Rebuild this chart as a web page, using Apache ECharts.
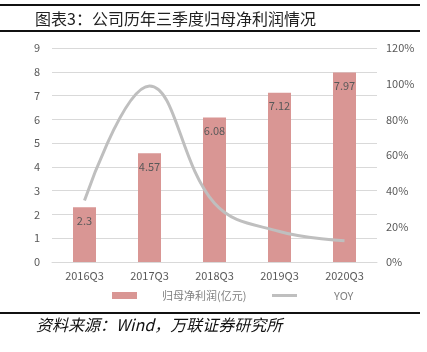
<!DOCTYPE html>
<html><head><meta charset="utf-8">
<script src="https://cdn.jsdelivr.net/npm/echarts@6/dist/echarts.min.js"></script>
<style>html,body{margin:0;padding:0;background:#fff}#c{width:427px;height:352px}</style>
</head><body><div id="c"></div>
<script>
var categories = ['2016Q3','2017Q3','2018Q3','2019Q3','2020Q3'];
var profit = [2.3, 4.57, 6.08, 7.12, 7.97];
var yoy = [34.44, 98.70, 32.93, 17.09, 11.89];
var leftTicks = {min:0, max:9, interval:1};
var rightTicks = {min:0, max:120, interval:20};
var F = '"Noto Sans CJK SC", sans-serif';
var chart = echarts.init(document.getElementById('c'));
chart.setOption({
  animation:false,
  textStyle:{fontFamily:F},
  grid:{left:52, right:50, top:48, bottom:90},
  legend:[
    {bottom:46, left:107, itemWidth:25, itemHeight:7,
      textStyle:{color:'#7f7f7f', fontSize:11, fontFamily:F, padding:[0,0,0,20]},
      data:[{name:'归母净利润(亿元)', icon:'rect'}]},
    {bottom:46, left:267, itemWidth:25, itemHeight:3,
      textStyle:{color:'#7f7f7f', fontSize:11, fontFamily:F, padding:[0,0,0,32]},
      data:[{name:'YOY', icon:'rect', itemStyle:{color:'#bfbfbf'}}]}
  ],
  graphic:[
    {type:'rect', shape:{x:0,y:4,width:420,height:2}, style:{fill:'#111'}},
    {type:'text', left:35, top:11, style:{text:'图表3：公司历年三季度归母净利润情况', fill:'#222', font:'16px '+F}},
    {type:'rect', shape:{x:0,y:30,width:420,height:2}, style:{fill:'#111'}},
    {type:'rect', shape:{x:0,y:312,width:420,height:2}, style:{fill:'#111'}},
    {type:'text', left:36, top:317, style:{text:'资料来源：Wind，万联证券研究所', fill:'#111', font:'italic 16px '+F}}
  ],
  xAxis:{type:'category', data:categories,
    axisLine:{lineStyle:{color:'#d9d9d9'}}, axisTick:{show:false},
    axisLabel:{color:'#595959', fontSize:11, margin:8}},
  yAxis:[
    {type:'value', min:leftTicks.min, max:leftTicks.max, interval:leftTicks.interval,
      axisLine:{show:false}, axisTick:{show:false},
      axisLabel:{color:'#595959', fontSize:11, margin:12},
      splitLine:{lineStyle:{color:'#d9d9d9'}}},
    {type:'value', min:rightTicks.min, max:rightTicks.max, interval:rightTicks.interval,
      axisLine:{show:false}, axisTick:{show:false},
      axisLabel:{color:'#595959', fontSize:11, margin:9, formatter:'{value}%'},
      splitLine:{show:false}}
  ],
  series:[
    {name:'归母净利润(亿元)', type:'bar', data:profit, barWidth:23,
      itemStyle:{color:'#d99694'},
      label:{show:true, position:'insideTop', offset:[0,3], color:'#595959', fontSize:11}},
    {name:'YOY', type:'line', yAxisIndex:1, data:yoy, smooth:0.4, symbol:'none',
      lineStyle:{color:'#bfbfbf', width:3}, itemStyle:{color:'#bfbfbf'},
      label:{show:true, position:'top', distance:9, color:'#595959', fontSize:11,
        formatter:function(p){return p.value.toFixed(2)+'%';}}}
  ]
});
</script></body></html>
